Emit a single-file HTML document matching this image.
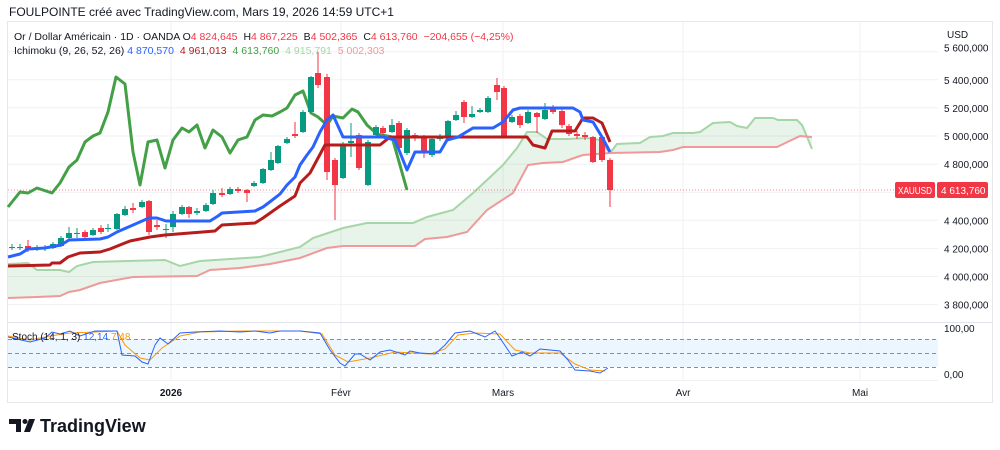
<!DOCTYPE html>
<html><head><meta charset="utf-8"><style>
body{margin:0;width:1000px;height:450px;background:#fff;overflow:hidden;font-family:"Liberation Sans",sans-serif;}
svg{position:absolute;left:0;top:0}
</style></head><body>
<svg id="s" width="1000" height="450" xmlns="http://www.w3.org/2000/svg" font-family="Liberation Sans, sans-serif">
<rect x="0" y="0" width="1000" height="450" fill="#fff"/>
<rect x="7.5" y="21.5" width="985" height="381" fill="#fff" stroke="#e8e8ec"/>
<g id="grid" stroke="#f0f1f4" stroke-width="1"></g>
<g id="plot"></g>
<line x1="8" y1="322.5" x2="992" y2="322.5" stroke="#e0e3eb"/>
<rect x="8" y="339" width="930" height="28" fill="#e3f2fd" opacity="0.7"/>
<g stroke="#8a8e99" stroke-dasharray="4,3" stroke-width="1">
<line x1="8" y1="339.5" x2="938" y2="339.5"/><line x1="8" y1="353.5" x2="938" y2="353.5"/><line x1="8" y1="367.5" x2="938" y2="367.5"/></g>
<g id="stoch" fill="none" stroke-width="1"></g>
<line x1="8" y1="380.5" x2="938" y2="380.5" stroke="#f0f1f4"/>
<g id="axis" font-size="10" fill="#131722"></g>
<text x="9" y="16" font-size="12" fill="#131722">FOULPOINTE créé avec TradingView.com, Mars 19, 2026 14:59 UTC+1</text>
<text x="14" y="40" font-size="10.5" fill="#131722">Or / Dollar Américain · 1D · OANDA <tspan>O</tspan><tspan fill="#f23645">4 824,645</tspan> <tspan dx="3">H</tspan><tspan fill="#f23645">4 867,225</tspan> <tspan dx="3">B</tspan><tspan fill="#f23645">4 502,365</tspan> <tspan dx="3">C</tspan><tspan fill="#f23645">4 613,760</tspan> <tspan dx="3" fill="#f23645">−204,655 (−4,25%)</tspan></text>
<text x="14" y="54" font-size="10.5" fill="#131722">Ichimoku (9, 26, 52, 26) <tspan fill="#2962ff">4 870,570</tspan> <tspan dx="3" fill="#b71c1c">4 961,013</tspan> <tspan dx="3" fill="#43a047">4 613,760</tspan> <tspan dx="3" fill="#a5d6a7">4 915,791</tspan> <tspan dx="3" fill="#ef9a9a">5 002,303</tspan></text>
<text x="12" y="340" font-size="10" fill="#131722">Stoch (14, 1, 3) <tspan fill="#2962ff">12,14</tspan> <tspan fill="#ff9800">7,48</tspan></text>
<rect x="942" y="24" width="44" height="20" rx="3" fill="#fff"/>
<text x="947" y="38" font-size="10" fill="#131722">USD</text>
<rect x="895" y="182" width="40" height="16" rx="2" fill="#f23645"/>
<text x="898" y="194" font-size="10" fill="#fff" textLength="34" lengthAdjust="spacingAndGlyphs">XAUUSD</text>
<rect x="937" y="182" width="51" height="16" rx="2" fill="#f23645"/>
<text x="941" y="194" font-size="10" fill="#fff">4 613,760</text>
<path d="M9 419h12v13h-5v-8h-7z" fill="#131722"/><circle cx="25" cy="421.5" r="2.5" fill="#131722"/><path d="M29 419h6l-5 13h-6z" fill="#131722"/>
<text x="40" y="432" font-size="18" font-weight="bold" fill="#131722">TradingView</text>
</svg>
<script>
const NS="http://www.w3.org/2000/svg";
function el(p,t,a,txt){const e=document.createElementNS(NS,t);for(const k in a)e.setAttribute(k,a[k]);if(txt!==undefined)e.textContent=txt;document.getElementById(p).appendChild(e);return e;}
const py=p=>136+(5000-p)*0.1405;
[5600,5400,5200,5000,4800,4600,4400,4200,4000,3800].forEach(p=>el('grid','line',{x1:8,x2:938,y1:py(p),y2:py(p)}));
[171,341,503,683,860].forEach(x=>el('grid','line',{x1:x,x2:x,y1:22,y2:380}));
[[5600,"5 600,000"],[5400,"5 400,000"],[5200,"5 200,000"],[5000,"5 000,000"],[4800,"4 800,000"],[4400,"4 400,000"],[4200,"4 200,000"],[4000,"4 000,000"],[3800,"3 800,000"]].forEach(([p,t])=>el('axis','text',{x:944,y:py(p)+(p==5600?0:4)},t));
el('axis','text',{x:944,y:332},"100,00");el('axis','text',{x:944,y:378},"0,00");
el('axis','text',{x:171,y:396,'text-anchor':'middle','font-weight':'bold'},"2026");
[[341,"Févr"],[503,"Mars"],[683,"Avr"],[860,"Mai"]].forEach(([x,t])=>el('axis','text',{x:x,y:396,'text-anchor':'middle'},t));
const P=a=>a.map(v=>v.join(',')).join(' ');
const A=[[8,264],[28,263],[37,270],[60,270],[69,272],[77,266],[93,262],[165,260],[180,266],[200,261],[260,257],[300,247],[313,238],[343,228],[367,223],[413,223],[427,217],[453,210],[473,193],[487,180],[503,165],[517,148],[527,132],[537,132],[547,139],[567,139],[587,138],[600,140],[610,153],[617,144],[640,143],[650,137],[663,136],[673,133],[693,133],[700,132],[713,123],[730,122],[737,126],[747,128],[755,118],[773,118],[778,120],[797,120],[802,125],[805,132],[812,149]];
const B=[[8,298],[37,297],[60,296],[69,292],[80,290],[100,283],[133,277],[197,276],[210,270],[240,268],[270,264],[300,258],[327,248],[343,246],[415,246],[425,239],[447,237],[467,232],[487,210],[513,193],[528,165],[543,163],[563,162],[577,157],[583,155],[610,153],[660,152],[673,150],[683,147],[777,147],[800,136],[812,137]];
el('plot','polygon',{points:P(A)+' '+P(B.slice().reverse()),fill:'rgba(67,160,71,0.12)'});
el('plot','polyline',{points:P(A),fill:'none',stroke:'#a5d6a7','stroke-width':2});
el('plot','polyline',{points:P(B),fill:'none',stroke:'#ef9a9a','stroke-width':2});
el('plot','line',{x1:8,x2:895,y1:190,y2:190,stroke:'#f23645','stroke-dasharray':'1,2',opacity:0.6});
const C=[[8,207],[20,192],[28,193],[37,188],[52,193],[60,183],[69,167],[77,160],[85,142],[93,136],[100,133],[108,112],[116,77],[125,84],[133,152],[140,185],[148,142],[157,140],[165,168],[173,140],[182,128],[189,132],[197,125],[205,148],[213,130],[222,137],[230,153],[238,140],[247,137],[255,120],[263,115],[272,116],[280,112],[287,108],[295,95],[303,91],[311,113],[318,117],[327,125],[333,116],[343,118],[352,109],[358,112],[367,125],[377,134],[392,137],[407,190]];
el('plot','polyline',{points:P(C),fill:'none',stroke:'#43a047','stroke-width':3,'stroke-linejoin':'round'});
const K=[[12,247,248,244,250,'g'],[20,247,248,244,250,'g'],[28,246,249,240,252,'r'],[37,248,249,245,251,'g'],[45,248,249,245,251,'g'],[53,244,248,242,249,'g'],[61,238,246,236,247,'g'],[69,233,238,227,239,'g'],[77,233,234,228,238,'g'],[85,232,237,230,239,'r'],[93,230,235,228,236,'g'],[101,228,232,225,234,'r'],[108,228,229,224,232,'g'],[117,214,229,213,230,'g'],[125,209,215,206,216,'g'],[133,208,210,203,213,'r'],[142,202,207,200,208,'g'],[149,201,232,200,235,'r'],[157,225,227,220,230,'r'],[166,229,230,224,238,'g'],[173,214,227,211,232,'g'],[182,207,214,205,215,'g'],[189,207,214,206,218,'r'],[197,211,213,208,215,'g'],[206,205,211,203,212,'g'],[213,193,204,190,205,'g'],[222,193,195,188,197,'r'],[230,189,194,187,195,'g'],[238,189,191,187,193,'r'],[247,190,193,189,202,'r'],[254,183,186,181,187,'g'],[263,169,183,168,184,'g'],[271,160,170,152,171,'g'],[278,146,163,145,164,'g'],[287,139,143,137,144,'g'],[295,134,136,122,138,'r'],[303,112,132,110,133,'g'],[311,77,112,76,113,'g'],[318,73,85,52,88,'r'],[327,77,172,74,180,'r'],[335,160,185,158,220,'r'],[343,144,178,142,179,'g'],[351,141,143,123,157,'g'],[359,135,168,133,170,'r'],[368,142,185,140,186,'g'],[376,127,135,125,137,'g'],[383,128,133,126,135,'r'],[392,125,132,119,133,'g'],[399,123,148,121,150,'r'],[407,130,153,128,155,'g'],[415,135,138,133,141,'r'],[424,137,153,135,158,'r'],[432,139,155,137,157,'g'],[440,137,139,134,141,'g'],[448,121,137,120,138,'g'],[456,115,120,111,121,'g'],[464,102,117,100,123,'r'],[472,114,117,106,118,'g'],[480,110,112,108,113,'g'],[488,98,112,96,113,'g'],[497,85,92,78,100,'r'],[504,88,136,86,136,'r'],[512,117,122,115,123,'g'],[520,116,125,114,128,'r'],[528,112,123,110,124,'g'],[537,113,117,112,133,'r'],[545,110,119,103,120,'g'],[553,108,112,105,114,'r'],[562,111,125,109,128,'r'],[569,126,134,124,136,'r'],[577,134,136,131,139,'r'],[585,135,137,132,140,'r'],[593,137,162,136,163,'r'],[602,137,160,136,162,'r'],[610,160,190,158,207,'r']];
K.forEach(c=>{const x=c[0];const col=c[5]=='g'?'#089981':'#f23645';
el('plot','line',{x1:x,x2:x,y1:c[3],y2:c[4],stroke:col,'stroke-width':1});
el('plot','rect',{x:x-3,y:c[1],width:6,height:Math.max(1,c[2]-c[1]),fill:col});});
const T=[[8,257],[20,254],[28,249],[45,248],[61,245],[69,240],[100,239],[108,237],[117,232],[133,225],[149,218],[157,218],[166,221],[210,221],[218,216],[222,213],[255,211],[263,207],[271,201],[280,194],[287,185],[295,177],[300,165],[307,155],[313,147],[320,132],[327,120],[333,115],[343,137],[383,137],[395,140],[407,170],[415,152],[440,152],[447,140],[458,137],[473,128],[493,128],[503,122],[513,110],[520,108],[573,108],[580,112],[583,120],[593,122],[602,137],[610,152]];
const J=[[8,266],[50,265],[52,263],[60,263],[68,257],[80,253],[100,252],[110,249],[130,241],[150,237],[165,235],[215,231],[222,225],[255,223],[263,218],[280,206],[295,196],[300,183],[310,173],[325,145],[380,145],[390,137],[527,137],[533,145],[545,148],[552,131],[575,131],[583,118],[593,118],[602,123],[610,142]];
el('plot','polyline',{points:P(J),fill:'none',stroke:'#b71c1c','stroke-width':3,'stroke-linejoin':'round'});
el('plot','polyline',{points:P(T),fill:'none',stroke:'#2962ff','stroke-width':3,'stroke-linejoin':'round'});
const SK=[[8,337],[30,342],[45,338],[52,332],[60,334],[70,331],[80,336],[95,331],[117,331],[122,355],[135,356],[142,362],[148,364],[155,345],[160,338],[168,344],[180,333],[195,332],[220,331],[240,332],[255,331],[270,333],[280,331],[300,331],[320,333],[330,350],[340,363],[345,366],[355,354],[360,354],[370,360],[380,352],[390,350],[405,355],[410,351],[420,353],[435,354],[445,345],[455,333],[470,331],[485,337],[495,331],[500,338],[512,356],[522,352],[530,356],[540,349],[560,351],[568,360],[575,370],[590,371],[600,373],[608,368]];
const SD=[[8,336],[30,340],[50,336],[70,333],[95,332],[117,331],[125,345],[140,358],[150,360],[162,348],[180,336],[200,332],[240,331],[300,331],[322,334],[335,355],[348,362],[370,358],[395,352],[430,354],[445,349],[458,335],[475,333],[500,334],[515,350],[530,353],[560,353],[575,364],[590,370],[605,371]];
el('stoch','polyline',{points:P(SD),stroke:'#ff9800'});
el('stoch','polyline',{points:P(SK),stroke:'#2962ff'});
</script>
</body></html>
